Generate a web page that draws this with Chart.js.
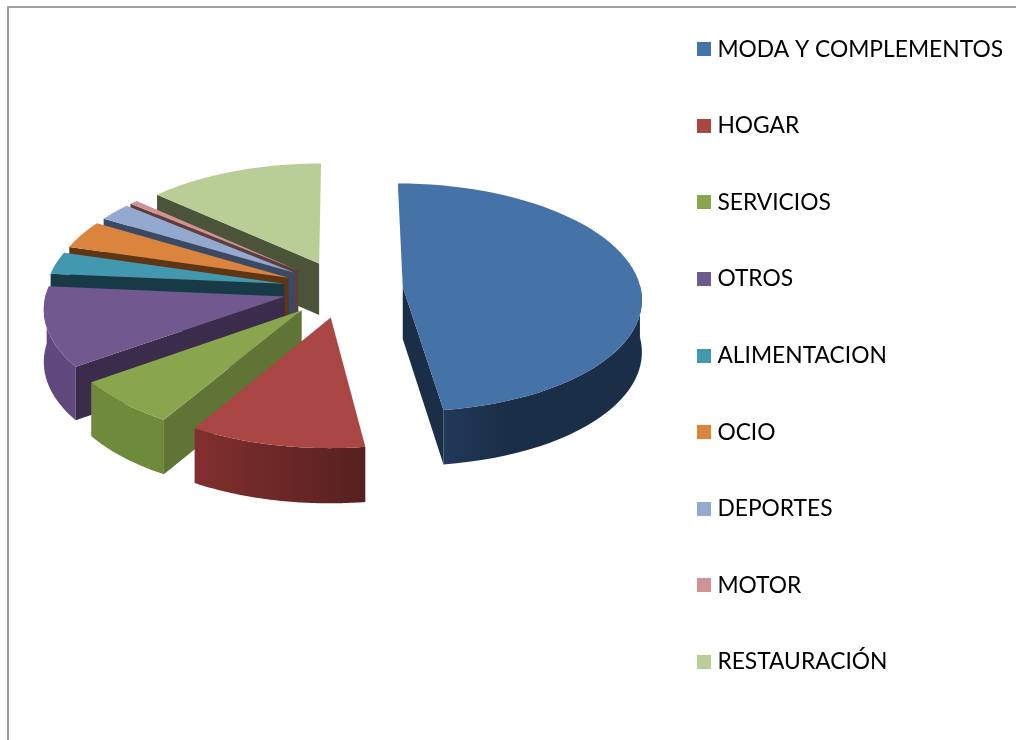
<!DOCTYPE html>
<html lang="es">

<head>
  <meta charset="UTF-8">
  <title>Sectores</title>
  <script src="https://cdn.jsdelivr.net/npm/chart.js@4"></script>
  <style>
    html, body { margin: 0; padding: 0; background: #fff; overflow: hidden; height: 740px; width: 1016px; }
    #marco { position: absolute; left: 7px; top: 6px; width: 1020px; height: 750px; border: 2px solid #a0a0a0; }
    #grafico { position: absolute; left: 0; top: -16px; }
  </style>
</head>

<body>
  <canvas id="grafico" width="1013" height="780"></canvas>
  <div id="marco"></div>

  <script>
    var categorias = ["MODA Y COMPLEMENTOS", "HOGAR", "SERVICIOS", "OTROS", "ALIMENTACION", "OCIO", "DEPORTES", "MOTOR", "RESTAURACIÓN"];
    var valores = [47.1, 10.5, 6.5, 11.1, 3.1, 3.9, 2.5, 0.6, 13.1];

    var coloresTapa = ["#4572A7", "#AA4643", "#89A54E", "#71588F", "#4198AF", "#DB843D", "#93A9CF", "#D19392", "#B9CD96"];
    var coloresCara = ["#1B2E47", "#572020", "#5F7435", "#3C2C4C", "#173A46", "#5F3512", "#3B4A64", "#5D3D3D", "#4B5438"];
    var bordeIzq = ["#22395A", "#80302E", "#6F8A3D", "#604A7D", "#2A6478", "#8E5420", "#5F7090", "#8A5F5E", "#79875F"];
    var bordeDer = ["#1B2E47", "#572020", "#6E8A3A", "#604A7D", "#2A6478", "#8E5420", "#5F7090", "#8A5F5E", "#79875F"];

    // geometria del queso 3D
    var radio = 238;
    var separacion = 60;
    var inclinacion = 0.476;
    var perspectiva = 0.09;
    var alto = 52;
    var centroX = 343;
    var centroY = 289;

    function cuadrito(color) {
      let c = document.createElement("canvas");
      c.width = 14;
      c.height = 14;
      let g = c.getContext("2d");
      g.fillStyle = color;
      g.fillRect(0, 0, 14, 14);
      return c;
    }

    function relleno(ctx, puntos, color) {
      ctx.beginPath();
      puntos.forEach((p, i) => i ? ctx.lineTo(p.x, p.y) : ctx.moveTo(p.x, p.y));
      ctx.closePath();
      ctx.fillStyle = color;
      ctx.fill();
    }

    var queso3d = {
      id: "queso3d",
      beforeDatasetsDraw(chart) {
        let ctx = chart.ctx;
        let arcos = chart.getDatasetMeta(0).data;

        // de atras hacia adelante
        for (let i = arcos.length - 1; i >= 0; i--) {
          let a = arcos[i];
          let cx = centroX;
          let cy = centroY + 16; // el canvas sube 16px
          let R = a.outerRadius;
          let medio = (a.startAngle + a.endAngle) / 2;
          let ox = separacion * Math.cos(medio);
          let oy = separacion * Math.sin(medio);

          let proyectar = (ux, uy) => {
            let p = 1 / (1 - perspectiva * uy / R);
            return { x: cx + ux * p, y: cy + inclinacion * uy * p, d: alto * Math.sqrt(p) };
          };
          let abajo = (q) => ({ x: q.x, y: q.y + q.d });

          let centro = proyectar(ox, oy);
          let curva = [];
          let frente = [];
          let pasos = 60;
          for (let s = 0; s <= pasos; s++) {
            let ang = a.startAngle + (a.endAngle - a.startAngle) * s / pasos;
            let q = proyectar(ox + R * Math.cos(ang), oy + R * Math.sin(ang));
            curva.push(q);
            if (Math.sin(ang) > -0.05) frente.push(q);
          }
          let ini = curva[0];
          let fin = curva[pasos];

          // borde exterior con degradado, solo la parte de delante
          if (frente.length > 1) {
            let xs = frente.map(q => q.x);
            let grad = ctx.createLinearGradient(Math.min(...xs), 0, Math.max(...xs), 0);
            grad.addColorStop(0, bordeIzq[i]);
            grad.addColorStop(i == 0 ? 0.3 : 1, bordeDer[i]);
            grad.addColorStop(1, bordeDer[i]);
            relleno(ctx, frente.concat(frente.map(abajo).reverse()), grad);
          }

          // caras interiores, solo las que miran al frente
          if (Math.cos(a.endAngle) > 0.001) {
            relleno(ctx, [centro, fin, abajo(fin), abajo(centro)], coloresCara[i]);
          }
          if (Math.cos(a.startAngle) < -0.001) {
            relleno(ctx, [centro, ini, abajo(ini), abajo(centro)], coloresCara[i]);
          }

          // tapa
          relleno(ctx, [centro].concat(curva), coloresTapa[i]);
        }
        return false;
      }
    };

    new Chart(document.getElementById("grafico"), {
      type: "pie",
      plugins: [queso3d],
      data: {
        labels: categorias,
        datasets: [{
          data: valores,
          backgroundColor: coloresTapa,
          borderWidth: 0
        }]
      },
      options: {
        responsive: false,
        animation: false,
        radius: radio,
        plugins: {
          tooltip: { enabled: false },
          legend: {
            position: "right",
            align: "start",
            labels: {
              usePointStyle: true,
              pointStyleWidth: 4,
              boxHeight: 14,
              padding: 53.8,
              color: "#000",
              font: { family: "Lato", size: 22.8 },
              generateLabels: (chart) => categorias.map((t, i) => ({
                text: t,
                fillStyle: coloresTapa[i],
                strokeStyle: coloresTapa[i],
                lineWidth: 0,
                pointStyle: cuadrito(coloresTapa[i]),
                index: i
              }))
            }
          }
        }
      }
    });
  </script>
</body>

</html>
